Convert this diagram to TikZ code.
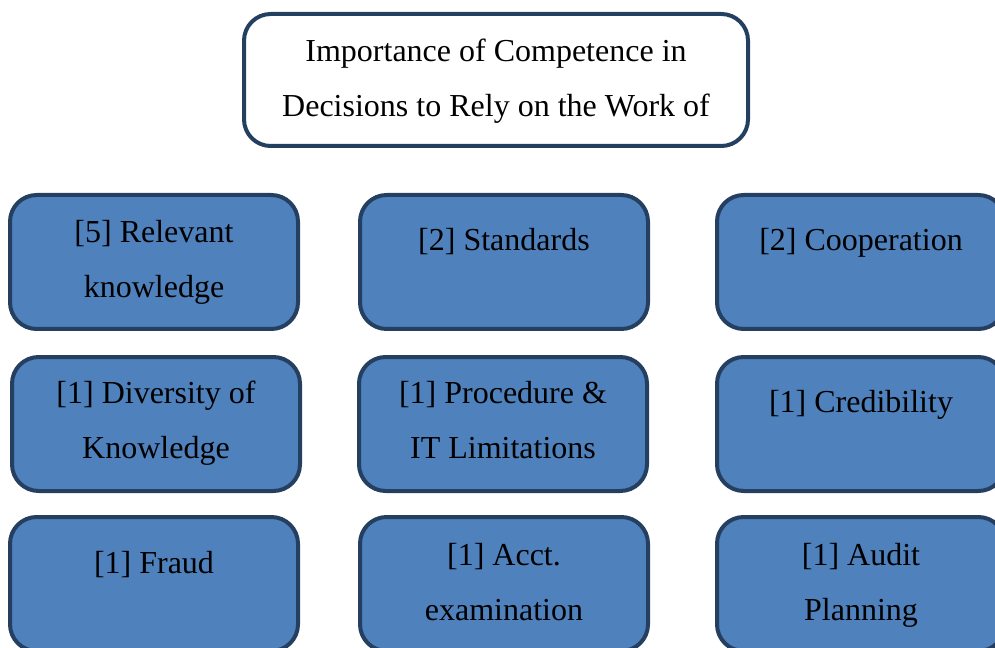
\documentclass[tikz,border=0pt]{standalone}
\usepackage{fontspec}
\setmainfont{Liberation Serif}
\definecolor{boxfill}{HTML}{4F81BD}
\definecolor{boxline}{HTML}{243F60}
\tikzset{
  kbox/.style={draw=boxline,line width=1.5pt,rounded corners=10pt,fill=boxfill},
  ktitle/.style={kbox,fill=white},
  ktxt/.style={anchor=base,inner sep=0pt,font=\fontsize{12}{14}\selectfont},
}
\begin{document}
\begin{tikzpicture}[x=0.375pt,y=-0.375pt]
\pgfmathsetmacro{\bW}{288}
\pgfmathsetmacro{\bH}{134}
\pgfmathsetmacro{\lS}{55}
\pgfmathsetmacro{\cA}{10}
\pgfmathsetmacro{\cB}{360}
\pgfmathsetmacro{\cC}{717}
\pgfmathsetmacro{\rA}{195}
\pgfmathsetmacro{\rB}{357}
\pgfmathsetmacro{\rC}{517}
\useasboundingbox(0,0)rectangle(995,648);
\clip(0,0)rectangle(995,648);
\draw[ktitle](244,14)rectangle(748,146);
\node[ktxt](tA)at(496,62){Importance of Competence in};
\node[ktxt](tB)at(496,62+\lS){Decisions to Rely on the Work of};
%
\draw[kbox](\cA,\rA)rectangle++(\bW,\bH);
\node[ktxt](kAa)at(\cA+\bW/2,\rA+48){[5] Relevant};
\node[ktxt](kAb)at(\cA+\bW/2,\rA+48+\lS){knowledge};
\draw[kbox](\cB,\rA)rectangle++(\bW,\bH);
\node[ktxt](kBa)at(\cB+\bW/2,\rA+56){[2] Standards};
\draw[kbox](\cC,\rA)rectangle++(\bW,\bH);
\node[ktxt](kCa)at(\cC+\bW/2,\rA+56){[2] Cooperation};
%
\draw[kbox](\cA+2,\rB)rectangle++(\bW,\bH);
\node[ktxt](kDa)at(\cA+2+\bW/2,\rB+46){[1] Diversity of};
\node[ktxt](kDb)at(\cA+2+\bW/2,\rB+46+\lS){Knowledge};
\draw[kbox](\cB-1,\rB)rectangle++(\bW,\bH);
\node[ktxt](kEa)at(\cB-1+\bW/2,\rB+46){[1] Procedure \&};
\node[ktxt](kEb)at(\cB-1+\bW/2,\rB+46+\lS){IT Limitations};
\draw[kbox](\cC,\rB)rectangle++(\bW,\bH);
\node[ktxt](kFa)at(\cC+\bW/2,\rB+55){[1] Credibility};
%
\draw[kbox](\cA,\rC)rectangle++(\bW,\bH);
\node[ktxt](kGa)at(\cA+\bW/2,\rC+56){[1] Fraud};
\draw[kbox](\cB,\rC)rectangle++(\bW,\bH);
\node[ktxt](kHa)at(\cB+\bW/2,\rC+48){[1] Acct.};
\node[ktxt](kHb)at(\cB+\bW/2,\rC+48+\lS){examination};
\draw[kbox](\cC,\rC)rectangle++(\bW,\bH);
\node[ktxt](kIa)at(\cC+\bW/2,\rC+48){[1] Audit};
\node[ktxt](kIb)at(\cC+\bW/2,\rC+48+\lS){Planning};
\end{tikzpicture}
\end{document}
